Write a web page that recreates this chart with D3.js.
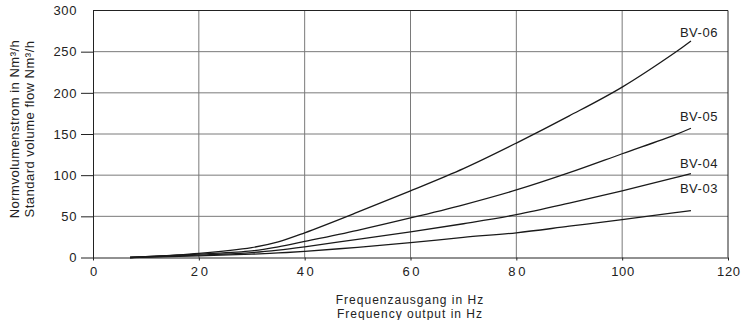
<!DOCTYPE html>
<html>
<head>
<meta charset="utf-8">
<script src="https://cdn.jsdelivr.net/npm/d3@7"></script>
<style>
  body { margin: 0; background: #fff; }
  svg text { font-family: "Liberation Sans", Arial, sans-serif; fill: #222; }
</style>
</head>
<body>
<svg id="chart"></svg>
<script>
// Frequenz in Hz (x) und Normvolumenstrom in Nm³/h (y)
const freq = [7, 20, 30, 35, 40, 50, 60, 70, 80, 90, 100, 110, 113];
const seriesNames = ['BV-06', 'BV-05', 'BV-04', 'BV-03'];
const bv06 = [0, 5, 12, 19, 30, 55, 81, 108, 139, 172, 207, 249, 263];
const bv05 = [0, 4, 8, 13, 19.5, 33, 48, 64, 82, 103, 126, 149, 157];
const bv04 = [0, 3, 6, 9, 13, 22, 31, 41, 52, 66, 81, 97, 102];
const bv03 = [0, 2, 4, 5.5, 7.5, 12.4, 18, 24.5, 30, 38, 46, 54.5, 57];
const xTicks = [0, 20, 40, 60, 80, 100, 120];
const yTicks = [0, 50, 100, 150, 200, 250, 300];
const xTitle = ['Frequenzausgang in Hz', 'Frequency output in Hz'];
const yTitle = ['Normvolumenstrom in Nm³/h', 'Standard volume flow Nm³/h'];

const width = 742, height = 320;
const marginLeft = 93, marginRight = 14, marginTop = 10.5, marginBottom = 62.5;
const labelDy = { 'BV-06': -9, 'BV-05': -11.5, 'BV-04': -10, 'BV-03': -22 };

const svg = d3.select('#chart').attr('width', width).attr('height', height);
const x = d3.scaleLinear([0, 120], [marginLeft, width - marginRight]);
const y = d3.scaleLinear([0, 300], [height - marginBottom, marginTop]);

const series = [bv06, bv05, bv04, bv03].map((vals, i) => ({
  name: seriesNames[i],
  points: freq.map((f, j) => [f, vals[j]]),
}));

// Gitter
svg.append('g')
  .selectAll('line')
  .data(xTicks.slice(1, -1))
  .join('line')
  .attr('x1', (d) => x(d)).attr('x2', (d) => x(d))
  .attr('y1', y(300)).attr('y2', y(0))
  .attr('stroke', '#7a7a7a');
svg.append('g')
  .selectAll('line')
  .data(yTicks.slice(1, -1))
  .join('line')
  .attr('x1', x(0)).attr('x2', x(120))
  .attr('y1', (d) => y(d)).attr('y2', (d) => y(d))
  .attr('stroke', '#7a7a7a');

// Rahmen oben/rechts
svg.append('path')
  .attr('d', `M${x(0)},${y(300)}H${x(120)}V${y(0)}`)
  .attr('fill', 'none')
  .attr('stroke', '#222');

// Achsen
const fontSize = 13;
svg.append('g')
  .attr('transform', `translate(0,${y(0)})`)
  .call(d3.axisBottom(x).tickValues(xTicks).tickSize(3).tickSizeOuter(0).tickPadding(6))
  .call((g) => g.select('.domain').attr('stroke', '#222'))
  .call((g) => g.selectAll('.tick line').attr('stroke', '#222'))
  .call((g) => g.selectAll('.tick text')
    .attr('font-size', fontSize)
    .attr('fill', '#222')
    .style('letter-spacing', (d) => (d >= 10 && d < 100 ? '2.6px' : '0.6px'))
    .attr('dx', (d) => (d >= 10 && d < 100 ? 1.3 : 0.3)));

svg.append('g')
  .attr('transform', `translate(${x(0)},0)`)
  .call(d3.axisLeft(y).tickValues(yTicks).tickSize(12).tickSizeOuter(0).tickPadding(4))
  .call((g) => g.select('.domain').attr('stroke', '#222'))
  .call((g) => g.selectAll('.tick line').attr('stroke', '#222').attr('x2', (d) => (d === 300 ? 0 : -12)))
  .call((g) => g.selectAll('.tick text').attr('font-size', fontSize).attr('fill', '#222').style('letter-spacing', '0.6px'));

// Kurven
const line = d3.line().curve(d3.curveCatmullRom.alpha(0.5)).x((d) => x(d[0])).y((d) => y(d[1]));
svg.append('g')
  .selectAll('path')
  .data(series)
  .join('path')
  .attr('d', (s) => line(s.points))
  .attr('fill', 'none')
  .attr('stroke', '#1a1a1a')
  .attr('stroke-width', 1.3);

svg.append('g')
  .selectAll('text')
  .data(series)
  .join('text')
  .attr('x', (s) => x(s.points[s.points.length - 1][0]) - 11)
  .attr('y', (s) => y(s.points[s.points.length - 1][1]) + labelDy[s.name])
  .attr('dy', '0.35em')
  .attr('font-size', fontSize)
  .style('letter-spacing', '0.5px')
  .text((s) => s.name);

// Achsentitel
svg.append('g')
  .selectAll('text')
  .data(xTitle)
  .join('text')
  .attr('x', 410)
  .attr('y', (d, i) => 299.3 + i * 14)
  .attr('dy', '0.35em')
  .attr('text-anchor', 'middle')
  .attr('font-size', 12)
  .style('letter-spacing', '1px')
  .text((d) => d);

svg.append('g')
  .attr('transform', 'translate(0,129) rotate(-90)')
  .selectAll('text')
  .data(yTitle)
  .join('text')
  .attr('x', 0)
  .attr('y', (d, i) => 14.5 + i * 15)
  .attr('dy', '0.35em')
  .attr('text-anchor', 'middle')
  .attr('font-size', fontSize)
  .style('letter-spacing', '0.5px')
  .text((d) => d);
</script>
</body>
</html>
